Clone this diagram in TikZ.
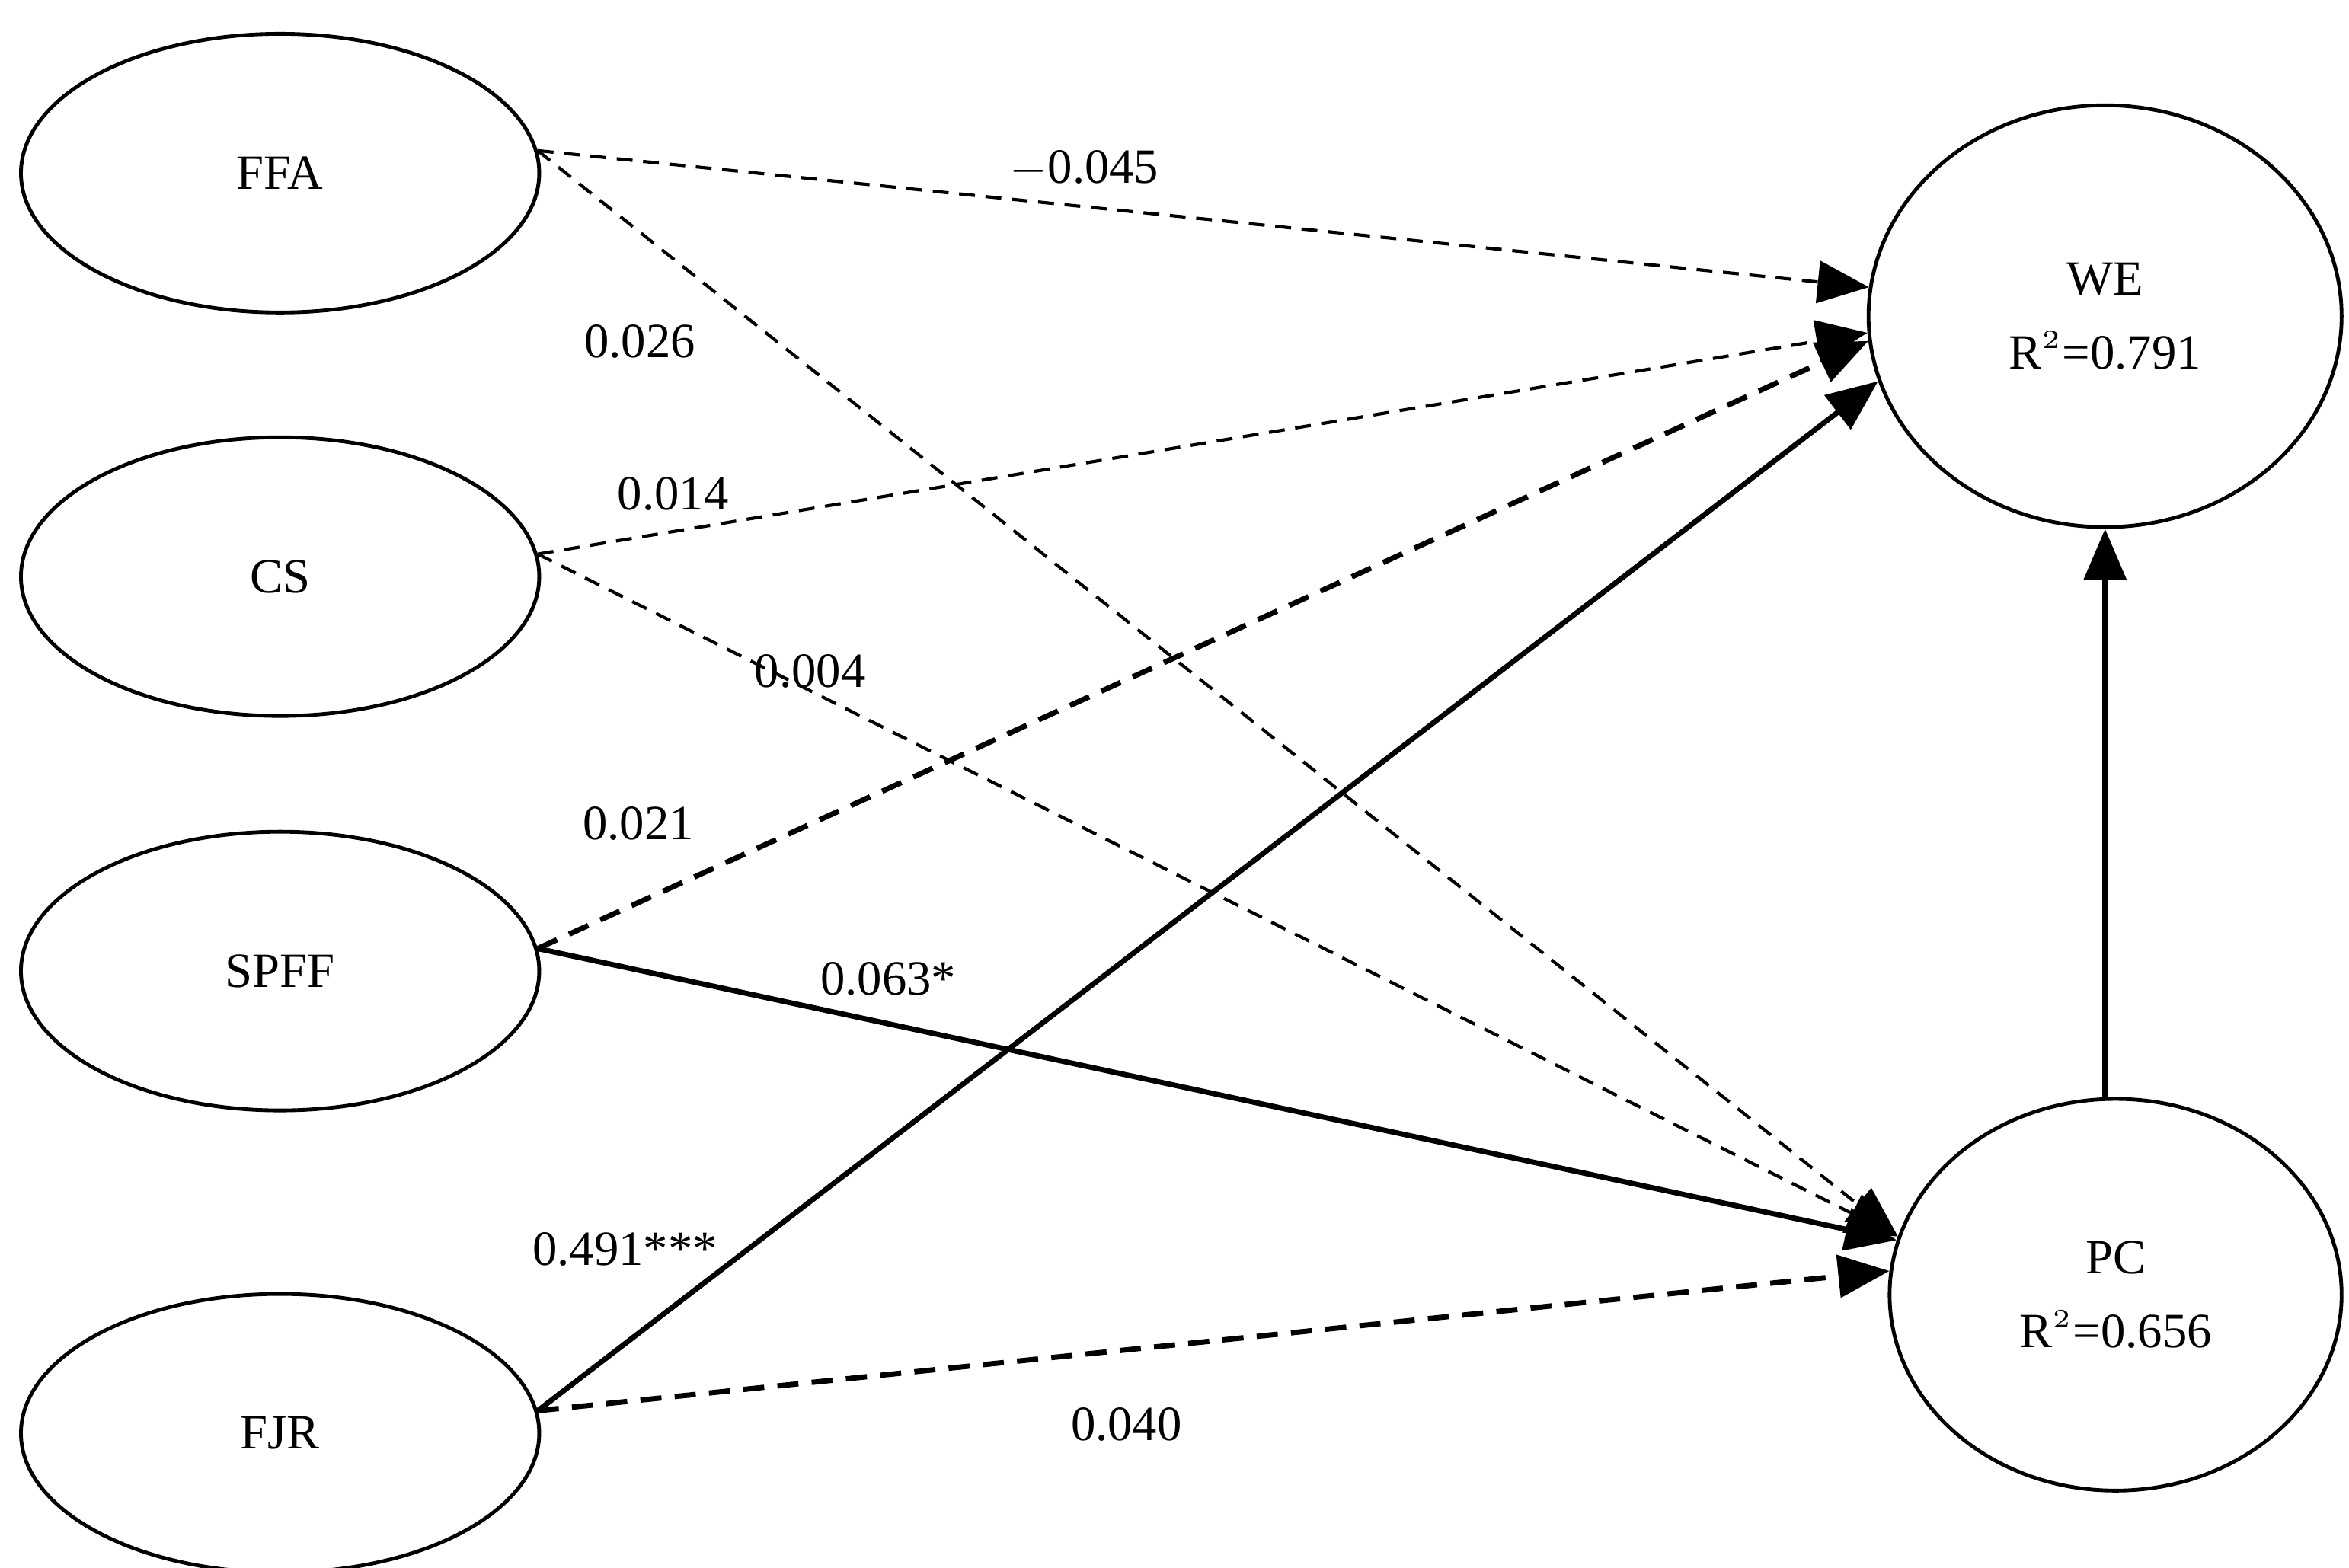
\documentclass[tikz,border=0pt]{standalone}
\usepackage{fontspec}
\setmainfont{Liberation Serif}
\usetikzlibrary{shapes.geometric,arrows.meta}
\tikzset{
  latent/.style={draw, ellipse, line width=0.7pt, inner sep=0pt, font=\fontsize{9.3}{11}\selectfont},
  path/.style={line width=0.6pt, -{Triangle[length=0.34cm,width=0.28cm]}},
  weak/.style={path, dash pattern=on 3pt off 2pt},
  strong/.style={path, line width=1pt},
  weakbold/.style={path, line width=1pt, dash pattern=on 4pt off 2.5pt},
  coef/.style={font=\fontsize{9.3}{11}\selectfont}
}
\begin{document}
\begin{tikzpicture}[x=0.01cm, y=-0.01cm]
    \useasboundingbox (0,0) rectangle (1560,1041.5);
    % Konstrukte
    \node[latent, minimum width=3.44cm, minimum height=1.85cm] (FFA) at (186,115) {FFA};
    \node[latent, minimum width=3.44cm, minimum height=1.85cm] (CS) at (186,383) {CS};
    \node[latent, minimum width=3.44cm, minimum height=1.85cm] (SPFF) at (186,645) {SPFF};
    \node[latent, minimum width=3.44cm, minimum height=1.85cm] (FJR) at (186,952) {FJR};
    \node[latent, minimum width=3.14cm, minimum height=2.8cm, align=center] (WE) at (1398,210) {WE\\[3pt]R$^{\scriptscriptstyle 2}$=0.791};
    \node[latent, minimum width=3.0cm, minimum height=2.6cm, align=center] (PC) at (1405,860) {PC\\[3pt]R$^{\scriptscriptstyle 2}$=0.656};

    % Pfade
    \draw[weak] (FFA.5) -- (WE.173);
    \draw[weak] (FFA.5) -- (PC.165);
    \draw[weak] (CS.5) -- (WE.184);
    \draw[weak] (CS.5) -- (PC.165);
    \draw[weakbold] (SPFF.5) -- (WE.186);
    \draw[strong] (SPFF.5) -- (PC.166);
    \draw[strong] (FJR.5) -- (WE.196);
    \draw[weakbold] (FJR.5) -- (PC.174);
    \draw[strong] (WE.south |- PC.north) -- (WE.south);

    % Koeffizienten
    \node[coef] (c1) at (720,112) {$-$0.045};
    \node[coef] (c2) at (425,227) {0.026};
    \node[coef] (c3) at (447,328) {0.014};
    \node[coef] (c4) at (538,446) {0.004};
    \node[coef] (c5) at (424,547) {0.021};
    \node[coef] (c6) at (590,650) {0.063*};
    \node[coef] (c7) at (415,830) {0.491***};
    \node[coef] (c8) at (748,946) {0.040};
\end{tikzpicture}
\end{document}
